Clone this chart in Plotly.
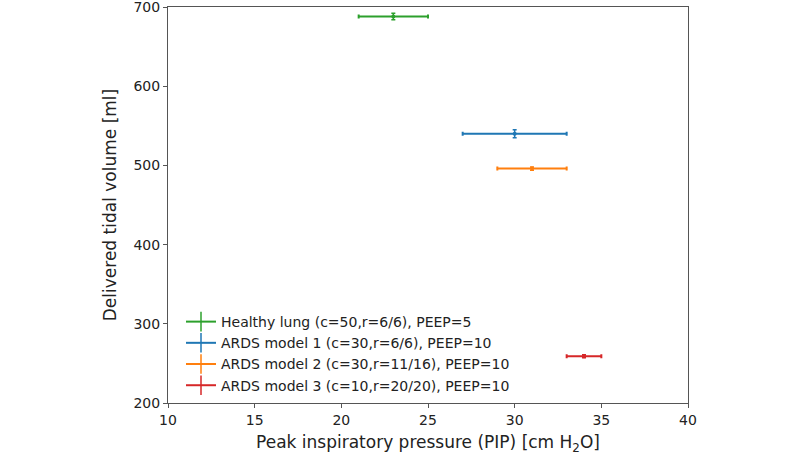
import plotly.graph_objects as go

labels = [
    "Healthy lung (c=50,r=6/6), PEEP=5",
    "ARDS model 1 (c=30,r=6/6), PEEP=10",
    "ARDS model 2 (c=30,r=11/16), PEEP=10",
    "ARDS model 3 (c=10,r=20/20), PEEP=10",
]
colors = ["#2ca02c", "#1f77b4", "#ff7f0e", "#d62728"]
pip_mean = [23, 30, 31, 34]
pip_err = [2, 3, 2, 1]
vt_mean = [688, 540, 496, 259]
vt_err = [4, 5, 2, 2]

fig = go.Figure()
for i in range(len(labels)):
    fig.add_trace(go.Scatter(
        x=[pip_mean[i]], y=[vt_mean[i]], mode="markers",
        marker=dict(color=colors[i], size=4),
        error_x=dict(type="data", array=[pip_err[i]], color=colors[i], thickness=2, width=2),
        error_y=dict(type="data", array=[vt_err[i]], color=colors[i], thickness=1.5, width=2),
        showlegend=False, name=labels[i],
    ))
for i in range(len(labels)):
    fig.add_trace(go.Scatter(
        x=[None], y=[None], mode="lines+markers", name=labels[i],
        line=dict(color=colors[i], width=2),
        marker=dict(symbol="line-ns-open", size=14, color=colors[i],
                    line=dict(color=colors[i], width=1.5)),
    ))

axis_common = dict(showline=True, linecolor="#555", linewidth=1, mirror=True,
                   ticks="outside", ticklen=4, tickcolor="#555", showgrid=False,
                   zeroline=False, automargin=True, ticklabeloverflow="allow",
                   tickfont=dict(size=14, color="#222"))
fig.update_layout(
    width=800, height=457,
    margin=dict(l=168, r=112, t=7, b=54, autoexpand=False),
    paper_bgcolor="white", plot_bgcolor="white",
    font=dict(family="DejaVu Sans", color="#222"),
    xaxis=dict(range=[10, 40], dtick=5,
               title=dict(text="Peak inspiratory pressure (PIP) [cm H<sub>2</sub>O]",
                          font=dict(size=17), standoff=9),
               **axis_common),
    yaxis=dict(range=[200, 700], dtick=100,
               title=dict(text="Delivered tidal volume [ml]", font=dict(size=17), standoff=12),
               **axis_common),
    legend=dict(x=0.025, y=0.005, xanchor="left", yanchor="bottom",
                bgcolor="rgba(255,255,255,0)", font=dict(size=14, color="#222"),
                itemwidth=30, tracegroupgap=0),
)
fig.write_html("out.html", config={"displayModeBar": False},
               post_script="document.body.style.margin='0';")
